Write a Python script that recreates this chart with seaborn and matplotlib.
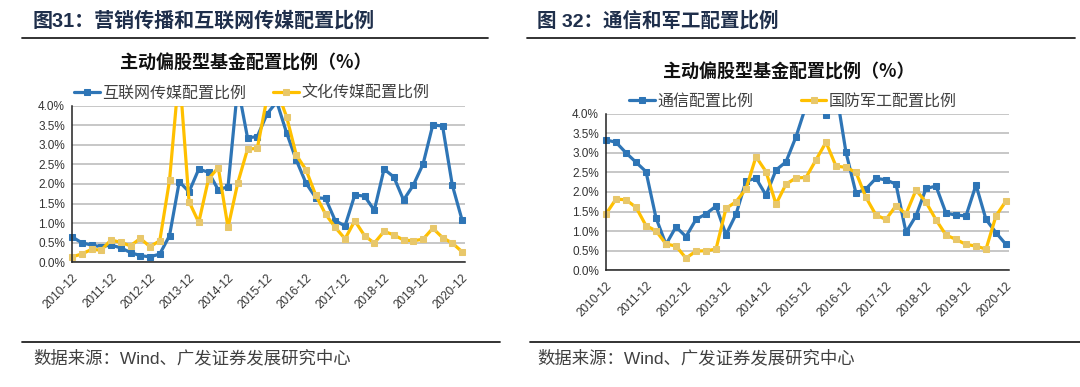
import pandas as pd
import seaborn as sns
import matplotlib.pyplot as plt
from matplotlib.lines import Line2D
from matplotlib.patches import Rectangle
from matplotlib.ticker import FuncFormatter

# quarterly points 2010-12 .. 2020-12, values in %
quarters = list(range(41))
year_ticks = list(range(0, 41, 4))
year_labels = [f"{y}-12" for y in range(2010, 2021)]

internet = [0.65, 0.50, 0.44, 0.40, 0.44, 0.37, 0.25, 0.17, 0.14, 0.21, 0.68,
            2.06, 1.80, 2.38, 2.30, 1.85, 1.93, 4.50, 3.18, 3.21, 3.79, 4.10,
            3.31, 2.61, 2.02, 1.65, 1.63, 1.06, 0.93, 1.72, 1.69, 1.33, 2.38,
            2.18, 1.59, 1.97, 2.51, 3.51, 3.48, 1.97, 1.08]
culture = [0.14, 0.21, 0.33, 0.31, 0.57, 0.51, 0.42, 0.61, 0.40, 0.55, 2.09,
           4.90, 1.55, 1.02, 2.13, 2.42, 0.89, 2.03, 2.89, 2.91, 4.20, 4.40,
           3.72, 2.74, 2.36, 1.71, 1.23, 0.89, 0.60, 1.06, 0.68, 0.49, 0.79,
           0.70, 0.57, 0.55, 0.59, 0.87, 0.63, 0.49, 0.27]
telecom = [3.33, 3.27, 3.00, 2.76, 2.52, 1.34, 0.66, 1.11, 0.86, 1.30, 1.44,
           1.64, 0.91, 1.43, 2.28, 2.35, 1.92, 2.56, 2.77, 3.41, 4.20, 4.50,
           3.97, 4.60, 3.01, 1.97, 2.08, 2.35, 2.31, 2.20, 0.97, 1.39, 2.09,
           2.15, 1.46, 1.41, 1.39, 2.18, 1.30, 0.96, 0.66]
defense = [1.44, 1.82, 1.80, 1.61, 1.14, 1.01, 0.67, 0.62, 0.31, 0.49, 0.50,
           0.54, 1.58, 1.75, 2.08, 2.90, 2.52, 1.69, 2.20, 2.36, 2.37, 2.82,
           3.27, 2.66, 2.63, 2.50, 1.86, 1.41, 1.30, 1.65, 1.44, 2.05, 1.74,
           1.29, 0.90, 0.79, 0.66, 0.62, 0.54, 1.39, 1.77]

BLUE = "#2E75B6"
GOLD = "#FFC000"
GOLD_MK = "#E8C76A"
NAVY = "#1F2F4B"
CJK = ["Noto Sans CJK SC", "DejaVu Sans"]
LAT = ["Liberation Sans", "Noto Sans CJK SC"]

sns.set_style("white")
plt.rcParams["font.family"] = CJK

W, H = 1080, 387
fig = plt.figure(figsize=(W / 100, H / 100), dpi=100)


def px(x, y):
    return x / W, 1 - y / H


def hline(x0, x1, y, lw=1.3):
    fig.add_artist(Line2D([x0 / W, x1 / W], [1 - y / H, 1 - y / H],
                          transform=fig.transFigure, color="#222222", lw=lw))


def panel(rect, s1, s2, names, legend_xy, colspace):
    ax = fig.add_axes(rect)
    df = pd.DataFrame({"q": quarters, "a": s1, "b": s2})
    sns.lineplot(data=df, x="q", y="a", ax=ax, color=BLUE, lw=2.3, marker="s",
                 markersize=4.5, markerfacecolor=BLUE, markeredgecolor=BLUE,
                 label=names[0])
    sns.lineplot(data=df, x="q", y="b", ax=ax, color=GOLD, lw=2.3, marker="s",
                 markersize=4.5, markerfacecolor=GOLD_MK, markeredgecolor=GOLD_MK,
                 label=names[1])
    clip = Rectangle((-0.03, -0.05), 1.06, 1.05, transform=ax.transAxes)
    for ln in ax.lines:
        ln.set_clip_path(clip)
    ax.set_xlim(0, 40.3)
    ax.set_ylim(0, 4)
    ax.set_yticks([i * 0.5 for i in range(9)])
    ax.yaxis.set_major_formatter(FuncFormatter(lambda v, p: f"{v:.1f}%"))
    ax.set_xticks(year_ticks)
    ax.set_xticklabels(year_labels, rotation=45, ha="right",
                       rotation_mode="anchor")
    for t in ax.get_xticklabels() + ax.get_yticklabels():
        t.set_family(LAT)
        t.set_fontsize(8.5)
        t.set_color("#333333")
    ax.tick_params(axis="x", direction="out", length=4, width=1,
                   color="#222222", pad=3)
    ax.tick_params(axis="y", direction="out", length=3, width=1,
                   color="#222222", pad=2)
    ax.grid(axis="y", color="#BDBDBD", lw=1.2)
    ax.set_axisbelow(True)
    for s in ["top", "right"]:
        ax.spines[s].set_visible(False)
    for s in ["left", "bottom"]:
        ax.spines[s].set_color("#222222")
        ax.spines[s].set_linewidth(1.1)
    ax.set_xlabel("")
    ax.set_ylabel("")
    ax.legend(loc="center left", bbox_to_anchor=px(*legend_xy),
              bbox_transform=fig.transFigure, ncol=2, frameon=False,
              fontsize=11.5, handlelength=1.6, handletextpad=0.15,
              columnspacing=colspace, borderpad=0, borderaxespad=0,
              labelcolor="#404040")
    return ax


# left panel
hline(22, 488, 38)
fig.text(*px(33, 21), "图31：营销传播和互联网传媒配置比例", family=LAT,
         fontsize=14.4, fontweight="bold", color=NAVY, va="center", ha="left")
fig.text(*px(246, 63), "主动偏股型基金配置比例（%）", fontsize=13,
         fontweight="bold", color="#111111", va="center", ha="center")
panel([72 / W, (H - 262.3) / H, 393 / W, 156.6 / H], internet, culture,
      ["互联网传媒配置比例", "文化传媒配置比例"], (74, 93), 1.7)
hline(22, 500, 342)
fig.text(*px(33, 358), "数据来源：Wind、广发证券发展研究中心", family=LAT,
         fontsize=12.5, color="#404040", va="center", ha="left")

# right panel
hline(527, 1075, 38)
fig.text(*px(537, 21), "图 32：通信和军工配置比例", family=LAT,
         fontsize=14, fontweight="bold", color=NAVY, va="center", ha="left")
fig.text(*px(789, 72), "主动偏股型基金配置比例（%）", fontsize=13,
         fontweight="bold", color="#111111", va="center", ha="center")
panel([606 / W, (H - 270.3) / H, 403 / W, 156.6 / H], telecom, defense,
      ["通信配置比例", "国防军工配置比例"], (629, 101), 3.0)
hline(530, 1080, 342)
fig.text(*px(537, 358), "数据来源：Wind、广发证券发展研究中心", family=LAT,
         fontsize=12.5, color="#404040", va="center", ha="left")

fig.savefig("out.png", dpi=100, facecolor="white")
